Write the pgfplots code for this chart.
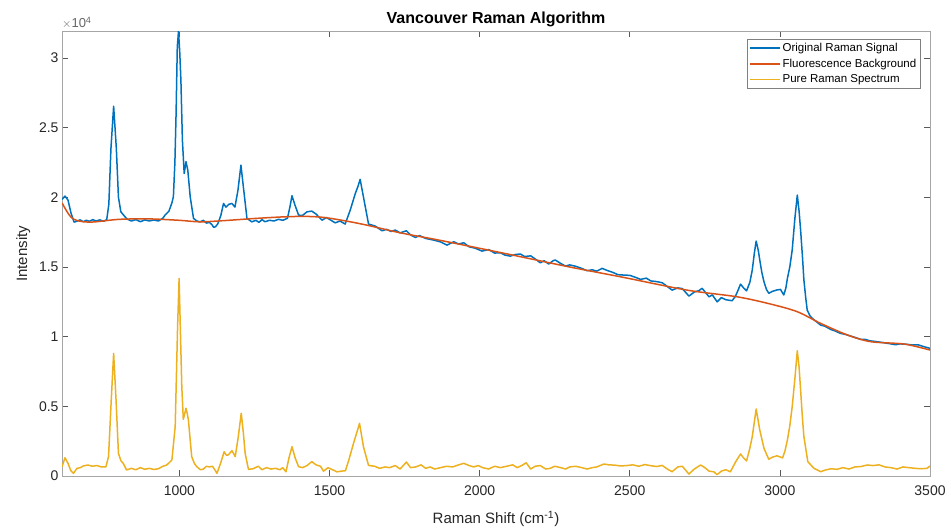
\documentclass[border=0pt]{standalone}
\usepackage{fontspec}
\setmainfont{Liberation Sans}
\usepackage{pgfplots}
\pgfplotsset{compat=1.18}
\definecolor{mblue}{rgb}{0,0.447,0.741}
\definecolor{morange}{rgb}{0.85,0.325,0.098}
\definecolor{myellow}{rgb}{0.929,0.694,0.125}
\definecolor{tickgray}{rgb}{0.15,0.15,0.15}
\begin{document}
\begin{tikzpicture}
\useasboundingbox (0,0) rectangle (951pt,531pt);
\begin{axis}[
  at={(62pt,55pt)}, anchor=south west,
  scale only axis, width=868pt, height=444.5pt,
  xmin=609, xmax=3500, ymin=0, ymax=31900,
  xtick={1000,1500,2000,2500,3000,3500},
  ytick={0,5000,10000,15000,20000,25000,30000},
  yticklabels={0,0.5,1,1.5,2,2.5,3},
  scaled y ticks=false, scaled x ticks=false,
  /pgf/number format/assume math mode=true,
  /pgf/number format/1000 sep={},
  tick align=inside, tick pos=both,
  major tick length=6pt,
  every tick/.style={black!65, line width=0.6pt},
  axis line style={black!35, line width=0.8pt},
  tick label style={font=\fontsize{14}{16}\selectfont, text=tickgray},
  xticklabel style={yshift=-6pt},
  title={\fontsize{16}{18}\selectfont\bfseries Vancouver Raman Algorithm},
  title style={yshift=-5pt},
  xlabel={\fontsize{15}{17}\selectfont Raman Shift (cm\textsuperscript{-1})},
  ylabel={\fontsize{15}{17}\selectfont Intensity},
  xlabel style={text=tickgray, yshift=-9pt},
  ylabel style={text=tickgray, yshift=2pt},
  legend style={at={(0.989,0.984)}, anchor=north east, draw=black!50,
    font=\fontsize{11.5}{13}\selectfont, row sep=2.2pt, inner sep=2pt,
    legend cell align=left},
  legend image code/.code={\draw[#1, smooth, line width=1.6pt] plot coordinates {(0pt,0pt) (15pt,0pt) (30pt,0pt)};},
  clip=true,
]
\addplot[mblue, line width=1.5pt, line join=round] coordinates {
(609,19850)(619,20090)(629,19800)(639,18870)(649,18220)(659,18290)(669,18380)(680,18250)(690,18350)(700,18280)
(712,18400)(722,18300)(735,18380)(748,18280)(758,18400)(765,19500)(772,23500)(781,26540)(790,23500)(797,20000)
(805,18960)(815,18700)(825,18450)(840,18300)(855,18400)(870,18250)(885,18380)(900,18300)(915,18380)(930,18300)
(945,18500)(952,18720)(965,19000)(975,19600)(980,20040)(985,22500)(989,26040)(993,30800)(997,31900)(1001,30500)
(1005,28410)(1010,24100)(1016,21710)(1022,22550)(1028,21950)(1036,20040)(1047,18490)(1058,18300)(1069,18240)(1080,18350)
(1090,18150)(1100,18200)(1108,18050)(1114,17850)(1120,17880)(1128,18100)(1138,18700)(1147,19560)(1155,19300)(1165,19500)
(1175,19560)(1185,19300)(1195,20500)(1205,22310)(1213,20760)(1225,18490)(1241,18240)(1255,18350)(1265,18200)(1275,18400)
(1285,18250)(1300,18350)(1315,18300)(1330,18420)(1345,18350)(1360,18500)(1368,19300)(1375,20110)(1385,19440)(1397,18720)
(1410,18700)(1425,18960)(1441,19010)(1455,18800)(1475,18360)(1490,18550)(1505,18350)(1519,18170)(1535,18300)(1552,18080)
(1569,19080)(1586,20280)(1595,20800)(1602,21290)(1616,19680)(1630,18080)(1652,17940)(1675,17600)(1690,17700)(1705,17550)
(1719,17650)(1735,17450)(1756,17600)(1770,17300)(1786,17120)(1800,17250)(1820,17050)(1847,16930)(1870,16800)(1891,16570)
(1914,16810)(1930,16650)(1947,16740)(1965,16450)(1985,16350)(2008,16140)(2030,16250)(2050,16000)(2069,16020)(2085,15850)
(2102,15780)(2120,15900)(2136,15930)(2150,15750)(2170,15800)(2190,15500)(2202,15300)(2215,15450)(2230,15210)(2245,15450)
(2252,15500)(2270,15250)(2286,15070)(2300,15150)(2320,15050)(2340,14900)(2358,14730)(2375,14800)(2390,14700)(2408,14900)
(2425,14750)(2445,14600)(2460,14450)(2480,14420)(2500,14400)(2520,14250)(2536,14110)(2555,14200)(2570,14000)(2590,13950)
(2608,13870)(2625,13600)(2641,13340)(2660,13500)(2675,13450)(2697,12910)(2715,13200)(2730,13300)(2741,13470)(2755,13100)
(2764,12860)(2775,13000)(2791,12500)(2805,12800)(2820,12650)(2841,12580)(2852,12900)(2860,13300)(2869,13770)(2879,13500)
(2889,13290)(2900,13900)(2908,14780)(2915,16000)(2921,16860)(2928,16200)(2933,15500)(2940,14600)(2947,13940)(2955,13400)
(2963,13110)(2975,13250)(2990,13350)(3002,13390)(3013,12990)(3020,13500)(3025,14180)(3033,15000)(3041,16210)(3050,18500)
(3058,20160)(3064,19000)(3069,17650)(3075,15800)(3080,14060)(3086,12800)(3091,11910)(3100,11500)(3108,11310)(3120,11100)
(3136,10830)(3150,10750)(3169,10520)(3185,10400)(3200,10250)(3220,10150)(3236,10040)(3250,9950)(3269,9810)(3285,9800)
(3300,9700)(3320,9650)(3347,9560)(3365,9500)(3385,9420)(3400,9480)(3425,9450)(3440,9400)(3460,9420)(3480,9280)(3500,9160)
};
\addlegendentry{Original Raman Signal}
\addplot[morange, line width=1.5pt, smooth] coordinates {
(609,19600)(625,19000)(640,18550)(660,18330)(690,18230)(720,18240)(800,18420)(900,18450)(1000,18350)(1069,18240)
(1150,18330)(1250,18480)(1350,18600)(1420,18630)(1480,18560)(1550,18320)(1625,18000)(1736,17450)(1850,16990)(1959,16520)
(2100,15900)(2300,15000)(2480,14250)(2691,13340)(2858,12860)(2969,12340)(3058,11790)(3136,10950)(3225,10120)(3302,9640)
(3414,9470)(3500,9040)
};
\addlegendentry{Fluorescence Background}
\addplot[myellow, line width=1.5pt, line join=round] coordinates {
(609,670)(619,1310)(629,910)(638,400)(647,190)(659,550)(670,600)(680,720)(695,790)(710,700)
(725,750)(740,650)(755,650)(764,1390)(773,5450)(781,8800)(789,5450)(797,1630)(805,1100)(813,910)
(824,430)(840,550)(855,450)(870,600)(885,480)(900,550)(915,470)(930,520)(945,700)(958,790)
(975,1150)(986,3540)(994,10710)(999,14180)(1003,10710)(1008,6410)(1013,4070)(1018,4500)(1022,4860)(1026,4500)
(1030,4020)(1041,1390)(1050,900)(1058,670)(1070,450)(1080,500)(1090,700)(1100,650)(1110,700)(1118,450)
(1125,190)(1137,900)(1149,1740)(1156,1500)(1163,1510)(1175,1820)(1186,1390)(1196,2800)(1206,4500)(1213,3100)
(1219,1630)(1230,480)(1245,520)(1263,700)(1275,450)(1290,600)(1305,500)(1320,550)(1335,450)(1344,600)
(1355,300)(1365,1300)(1375,2100)(1386,1270)(1397,670)(1410,600)(1425,750)(1441,1030)(1455,800)(1470,700)
(1480,350)(1495,600)(1510,450)(1525,300)(1540,350)(1553,380)(1565,1200)(1580,2350)(1592,3200)(1600,3780)
(1613,2100)(1630,760)(1650,700)(1667,550)(1685,650)(1700,600)(1719,750)(1735,500)(1756,1000)(1770,600)
(1787,650)(1805,800)(1820,550)(1835,650)(1850,500)(1870,600)(1890,700)(1910,650)(1930,800)(1947,910)
(1965,750)(1980,650)(1995,750)(2010,600)(2030,500)(2050,700)(2069,600)(2090,700)(2110,800)(2125,600)
(2140,750)(2155,950)(2170,500)(2185,700)(2202,750)(2220,500)(2235,550)(2250,700)(2270,600)(2286,500)
(2300,650)(2320,700)(2340,600)(2358,500)(2375,600)(2390,650)(2414,860)(2430,800)(2450,780)(2469,720)
(2490,750)(2510,800)(2530,700)(2550,820)(2570,740)(2590,680)(2608,760)(2625,500)(2641,310)(2660,650)
(2675,700)(2697,140)(2715,500)(2736,790)(2750,600)(2764,350)(2780,300)(2791,100)(2805,350)(2820,450)
(2835,300)(2853,1030)(2869,1580)(2879,1300)(2889,1080)(2900,2000)(2908,2820)(2921,4810)(2933,3300)(2947,1990)
(2963,1200)(2975,1350)(2990,1450)(3009,1300)(3017,1800)(3025,2580)(3033,3600)(3041,4970)(3050,7000)(3058,8990)
(3064,7800)(3069,6170)(3075,4200)(3080,2820)(3093,1030)(3113,560)(3136,310)(3150,420)(3170,520)(3190,480)
(3210,600)(3230,500)(3250,650)(3270,680)(3291,790)(3310,750)(3330,800)(3350,650)(3370,600)(3390,500)
(3410,650)(3430,600)(3450,550)(3470,520)(3490,550)(3500,720)
};
\addlegendentry{Pure Raman Spectrum}
\end{axis}
\node[anchor=south west, inner sep=0pt, text=black!60, font=\fontsize{13}{15}\selectfont] at (62pt,502pt) {$\times$10\textsuperscript{4}};
\end{tikzpicture}
\end{document}
